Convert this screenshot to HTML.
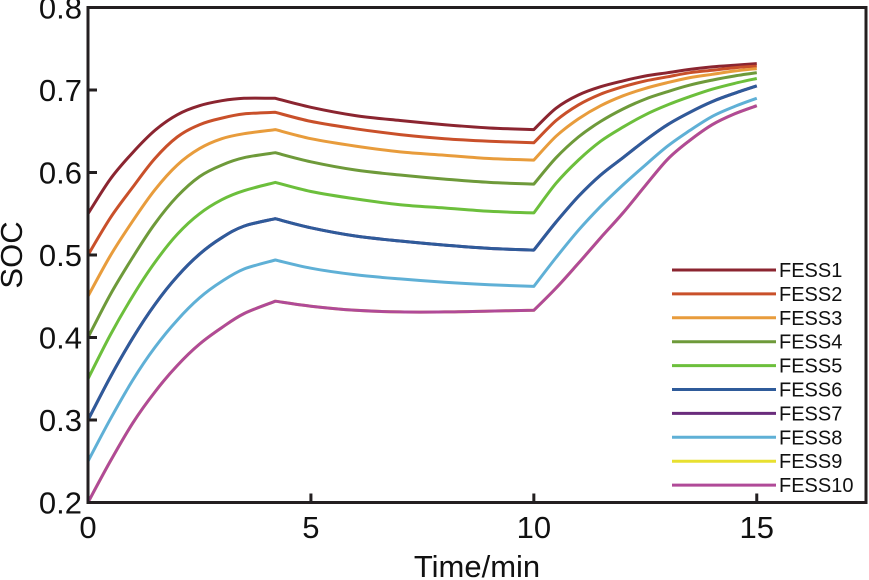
<!DOCTYPE html>
<html><head><meta charset="utf-8"><style>
html,body{margin:0;padding:0;background:#fff;}
svg{display:block;font-family:"Liberation Sans",Arial,sans-serif;}
</style></head><body>
<svg id="chart" width="869" height="580" viewBox="0 0 869 580"></svg>
<script>
const times=[0,0.5,1,1.5,2,2.5,3,3.5,4.2,5,6,7,8,9,10,10.5,11,11.5,12,12.5,13,13.5,14,14.5,15];
const seriesNames=["FESS1","FESS2","FESS3","FESS4","FESS5","FESS6","FESS7","FESS8","FESS9","FESS10"];
const fess1=[.55,.592,.624,.651,.670,.681,.687,.690,.690,.679,.669,.663,.658,.654,.652,.678,.694,.704,.711,.717,.721,.725,.728,.730,.732];
const fess2=[.50,.545,.582,.617,.643,.658,.666,.671,.673,.662,.653,.646,.641,.638,.636,.663,.682,.695,.704,.711,.716,.721,.724,.727,.729];
const fess3=[.45,.499,.541,.579,.609,.629,.641,.647,.652,.641,.632,.625,.621,.617,.615,.644,.665,.681,.693,.702,.709,.715,.719,.723,.726];
const fess4=[.40,.452,.497,.538,.571,.595,.609,.618,.624,.613,.603,.597,.592,.588,.586,.618,.643,.662,.677,.689,.698,.706,.712,.717,.721];
const fess5=[.35,.403,.450,.491,.525,.550,.567,.578,.588,.577,.568,.561,.557,.553,.551,.587,.615,.638,.655,.670,.682,.692,.701,.708,.714];
const fess6=[.30,.352,.399,.440,.474,.501,.521,.535,.544,.533,.523,.517,.512,.508,.506,.540,.571,.597,.618,.639,.658,.673,.686,.696,.705];
const fess7=[.30,.352,.399,.440,.474,.501,.521,.535,.544,.533,.523,.517,.512,.508,.506,.540,.571,.597,.618,.639,.658,.673,.686,.696,.705];
const fess8=[.25,.301,.348,.388,.421,.448,.468,.483,.494,.484,.476,.471,.467,.464,.462,.497,.530,.559,.585,.609,.632,.651,.668,.680,.690];
const fess9=[.20,.250,.296,.334,.366,.392,.412,.429,.444,.438,.433,.431,.431,.432,.433,.460,.490,.521,.551,.584,.616,.639,.658,.671,.681];
const fess10=[.20,.250,.296,.334,.366,.392,.412,.429,.444,.438,.433,.431,.431,.432,.433,.460,.490,.521,.551,.584,.616,.639,.658,.671,.681];
const xTicks=[0,5,10,15];
const yTicks=[0.2,0.3,0.4,0.5,0.6,0.7,0.8];
const breakIdx=[8,14];
const allSeries=[fess1,fess2,fess3,fess4,fess5,fess6,fess7,fess8,fess9,fess10];
const colors=["#8b2530","#c9502a","#e89c3c","#6e9a3a","#6cbf3c","#2f5b9a","#6a2c7c","#5fb0d6","#e8e030","#b04a98"];
const NS="http://www.w3.org/2000/svg";
const svg=document.getElementById('chart');
const L=88,R=866,T=7.5,B=502.5,XMAX=17.45,YMIN=0.2,YMAX=0.8;
const xs=t=>L+t/XMAX*(R-L);
const ys=v=>B-(v-YMIN)/(YMAX-YMIN)*(B-T);
function mk(tag,attrs,parent){const e=document.createElementNS(NS,tag);for(const k in attrs)e.setAttribute(k,attrs[k]);(parent||svg).appendChild(e);return e;}
function smoothPath(vals){
  const pts=vals.map((v,j)=>[xs(times[j]),ys(v)]);
  const segs=[];let s=0;
  breakIdx.concat([pts.length-1]).forEach(e=>{segs.push([s,e]);s=e;});
  let d='M'+pts[0][0].toFixed(1)+','+pts[0][1].toFixed(1);
  segs.forEach(([a,b])=>{
    for(let i=a;i<b;i++){
      const p0=pts[Math.max(a,i-1)],p1=pts[i],p2=pts[i+1],p3=pts[Math.min(b,i+2)];
      const c1=[p1[0]+(p2[0]-p0[0])/6,p1[1]+(p2[1]-p0[1])/6];
      const c2=[p2[0]-(p3[0]-p1[0])/6,p2[1]-(p3[1]-p1[1])/6];
      d+=' C'+c1[0].toFixed(1)+','+c1[1].toFixed(1)+' '+c2[0].toFixed(1)+','+c2[1].toFixed(1)+' '+p2[0].toFixed(1)+','+p2[1].toFixed(1);
    }
  });
  return d;
}
const order=[6,8,0,1,2,3,4,5,7,9];
const g=mk('g',{});


order.forEach(i=>{
  const p=mk('path',{d:smoothPath(allSeries[i]),fill:'none',stroke:colors[i],'stroke-width':3,'stroke-linejoin':'round'},g);
  
  
});
const fr=mk('rect',{x:L,y:T,width:R-L,height:B-T,fill:'none',stroke:'#231f20','stroke-width':3});


xTicks.forEach(t=>{
  const tk=mk('line',{x1:xs(t),x2:xs(t),y1:B,y2:B-9,stroke:'#231f20','stroke-width':3});
  
  
  const tx=mk('text',{x:xs(t),y:538,'font-size':31,'text-anchor':'middle',fill:'#111'});
  tx.textContent=t;
  
  
});
yTicks.forEach(v=>{
  if(v>0.2&&v<0.8){
    const tk=mk('line',{x1:L,x2:L+9,y1:ys(v),y2:ys(v),stroke:'#231f20','stroke-width':3});
    
    
  }
  const tx=mk('text',{x:82,y:ys(v)+11,'font-size':31,'text-anchor':'end',fill:'#111'});
  tx.textContent=v.toFixed(1);
  
  
});
const xt=mk('text',{x:477,y:577,'font-size':31,'text-anchor':'middle',fill:'#111'});
xt.textContent='Time/min';


const yt=mk('text',{x:0,y:0,'font-size':31,'text-anchor':'middle',fill:'#111',transform:'translate(22,255) rotate(-90)'});
yt.textContent='SOC';


const lg=mk('g',{});


seriesNames.forEach((n,i)=>{
  const y=270+i*23.9;
  const ln=mk('line',{x1:672,x2:776,y1:y,y2:y,stroke:colors[i],'stroke-width':3},lg);
  
  
  const tx=mk('text',{x:779,y:y+7,'font-size':20,fill:'#111'},lg);
  tx.textContent=n;
  
  
});
</script>
</body></html>
